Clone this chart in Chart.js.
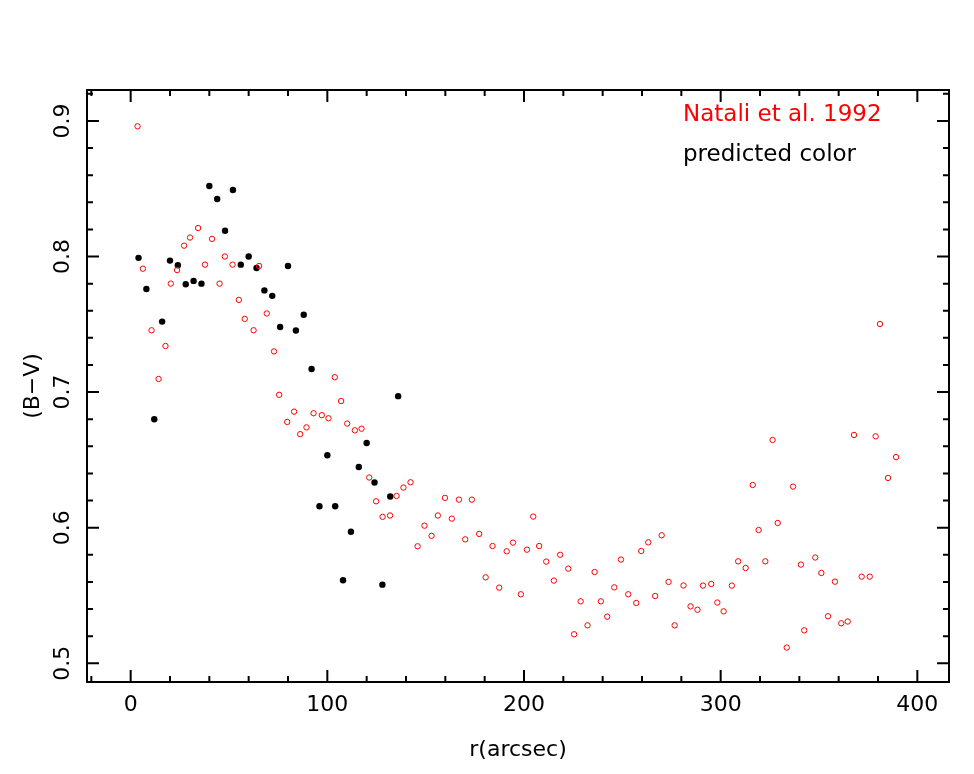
<!DOCTYPE html>
<html><head><meta charset="utf-8">
<script src="https://cdn.jsdelivr.net/npm/chart.js@4.4.1/dist/chart.umd.min.js"></script>
<style>html,body{margin:0;padding:0;background:#fff;} #wrap{width:974px;height:774px;}</style>
</head><body><div id="wrap"><canvas id="c" width="974" height="774"></canvas></div>
<script>
const nataliR = [3.5,6.2,10.6,14.2,17.7,20.4,23.6,27.2,30.2,34.3,37.8,41.4,45.2,47.9,51.8,55.0,58.0,62.5,65.3,69.2,72.9,75.5,79.6,83.1,86.2,89.4,93.0,97.2,100.6,103.8,107.0,110.1,114.0,117.4,121.3,124.8,128.1,131.9,135.2,138.7,142.3,145.9,149.4,153.0,156.2,159.8,163.3,166.9,170.1,173.5,177.2,180.5,184.0,187.4,191.2,194.4,198.4,201.5,204.7,207.7,211.3,215.2,218.4,222.5,225.5,228.8,232.3,235.9,239.1,242.3,245.9,249.3,253.0,257.1,259.6,263.2,266.7,270.0,273.5,276.6,281.1,284.7,288.2,291.0,295.2,298.3,301.5,305.7,308.9,312.7,316.3,319.3,322.7,326.4,329.0,333.6,336.8,340.8,342.5,348.1,351.2,354.6,358.1,361.3,364.6,367.8,371.7,375.8,378.8,381.0,385.1,389.2];
const nataliBV = [0.896,0.791,0.7456,0.7097,0.734,0.780,0.790,0.808,0.814,0.821,0.794,0.813,0.780,0.800,0.794,0.768,0.754,0.7456,0.793,0.758,0.730,0.698,0.678,0.6856,0.669,0.674,0.6844,0.683,0.6807,0.711,0.6934,0.6768,0.6718,0.673,0.637,0.6195,0.608,0.609,0.6234,0.6296,0.6335,0.5863,0.6015,0.594,0.609,0.622,0.6067,0.6207,0.5914,0.6207,0.5954,0.5634,0.5865,0.5558,0.5826,0.589,0.5509,0.5838,0.6082,0.5865,0.575,0.561,0.580,0.5698,0.5214,0.5457,0.528,0.5673,0.5457,0.5344,0.556,0.5765,0.5509,0.5445,0.5828,0.5892,0.5496,0.5944,0.560,0.528,0.5574,0.542,0.5395,0.5573,0.5585,0.5448,0.5383,0.5573,0.5752,0.5703,0.6315,0.5983,0.5752,0.6647,0.6035,0.5116,0.6303,0.5728,0.5243,0.578,0.5666,0.5347,0.5602,0.5295,0.5308,0.6684,0.5639,0.5639,0.6674,0.7502,0.6367,0.6521];
const predR = [4,8,12,16,20,24,28,32,36,40,44,48,52,56,60,64,68,72,76,80,84,88,92,96,100,104,108,112,116,120,124,128,132,136];
const predBV = [0.799,0.776,0.680,0.752,0.797,0.7935,0.7795,0.782,0.780,0.852,0.8424,0.819,0.849,0.794,0.800,0.7915,0.775,0.771,0.748,0.793,0.7454,0.757,0.717,0.6158,0.6534,0.6158,0.5612,0.597,0.6448,0.6625,0.6333,0.558,0.623,0.697];
const seriesLabels = ['Natali et al. 1992', 'predicted color'];
const xMajorTicks = [0, 100, 200, 300, 400];
const yMajorTicks = [0.5, 0.6, 0.7, 0.8, 0.9];
const xTitle = 'r(arcsec)';
const yTitle = '(B\u2212V)';

const FONT = 'DejaVu Sans';
const isMajor = (list, v) => list.find(m => Math.abs(m - v) < 1e-6);

const framePlugin = {
  id: 'frame',
  afterDraw(chart) {
    const {ctx, chartArea: a, scales: {x, y}} = chart;
    ctx.save();
    ctx.strokeStyle = '#000';
    ctx.lineWidth = 2;
    ctx.strokeRect(a.left, a.top, a.right - a.left, a.bottom - a.top);
    ctx.beginPath();
    x.ticks.forEach(t => {
      const px = x.getPixelForValue(t.value);
      const L = isMajor(xMajorTicks, t.value) !== undefined ? 12 : 6;
      ctx.moveTo(px, a.bottom); ctx.lineTo(px, a.bottom - L);
      ctx.moveTo(px, a.top); ctx.lineTo(px, a.top + L);
    });
    y.ticks.forEach(t => {
      const py = y.getPixelForValue(t.value);
      const L = isMajor(yMajorTicks, t.value) !== undefined ? 12 : 6;
      ctx.moveTo(a.left, py); ctx.lineTo(a.left + L, py);
      ctx.moveTo(a.right, py); ctx.lineTo(a.right - L, py);
    });
    ctx.stroke();
    ctx.font = '23px "' + FONT + '"';
    ctx.textAlign = 'left';
    ctx.textBaseline = 'alphabetic';
    chart.data.datasets.forEach((ds, i) => {
      ctx.fillStyle = ds.textColor;
      ctx.fillText(ds.label, a.right - 266, a.top + 31 + i * 40);
    });
    ctx.restore();
  }
};

new Chart(document.getElementById('c'), {
  type: 'scatter',
  data: {
    datasets: [
      {
        label: seriesLabels[0],
        data: nataliR.map((r, i) => ({x: r, y: nataliBV[i]})),
        textColor: '#ff0000',
        pointRadius: 2.7,
        pointBorderWidth: 1,
        pointBorderColor: '#ff0000',
        pointBackgroundColor: 'rgba(255,255,255,0)',
        order: 0
      },
      {
        label: seriesLabels[1],
        data: predR.map((r, i) => ({x: r, y: predBV[i]})),
        textColor: '#000000',
        pointRadius: 3.2,
        pointBorderWidth: 0,
        pointBorderColor: '#000',
        pointBackgroundColor: '#000',
        order: 1
      }
    ]
  },
  options: {
    responsive: false,
    devicePixelRatio: 1,
    animation: false,
    layout: {padding: {top: 90, right: 25, left: 0, bottom: 0}},
    plugins: {legend: {display: false}, tooltip: {enabled: false}},
    scales: {
      x: {
        type: 'linear', min: -22.2, max: 416.1,
        afterFit(s) { s.height = 92; },
        grid: {display: false, drawTicks: false},
        border: {display: false},
        ticks: {
          stepSize: 20, includeBounds: false, autoSkip: false, minRotation: 0, maxRotation: 0,
          padding: 10, color: '#000', font: {family: FONT, size: 22},
          callback: v => { const m = isMajor(xMajorTicks, v); return m !== undefined ? String(m) : ''; }
        },
        title: {display: true, text: xTitle, color: '#000', font: {family: FONT, size: 22}, padding: {top: 0, bottom: 11}}
      },
      y: {
        type: 'linear', min: 0.4862, max: 0.9228,
        afterFit(s) { s.width = 87; },
        grid: {display: false, drawTicks: false},
        border: {display: false},
        ticks: {
          stepSize: 0.02, includeBounds: false, autoSkip: false, minRotation: 90, maxRotation: 90,
          crossAlign: 'center', padding: 6.5, color: '#000', font: {family: FONT, size: 22},
          callback: v => { const m = isMajor(yMajorTicks, v); return m !== undefined ? m.toFixed(1) : ''; }
        },
        title: {display: true, text: yTitle, color: '#000', font: {family: FONT, size: 22}, padding: {top: 20, bottom: 0}}
      }
    }
  },
  plugins: [framePlugin]
});
</script>
</body></html>
